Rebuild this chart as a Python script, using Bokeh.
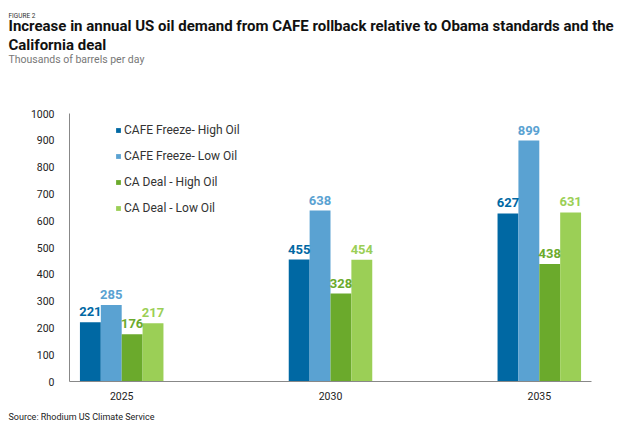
from bokeh.plotting import figure
from bokeh.models import (ColumnDataSource, FactorRange, Range1d, LabelSet, Title,
                          SingleIntervalTicker, Legend, LegendItem)
from bokeh.transform import dodge
from bokeh.core.properties import value
from bokeh.embed import file_html
from bokeh.resources import INLINE

years = ["2025", "2030", "2035"]
series_names = ["CAFE Freeze- High Oil", "CAFE Freeze- Low Oil", "CA Deal - High Oil", "CA Deal - Low Oil"]
cafe_high = [221, 455, 627]
cafe_low = [285, 638, 899]
ca_high = [176, 328, 438]
ca_low = [217, 454, 631]
colors = ["#0068A3", "#5AA2D2", "#6BAA2C", "#9BCF56"]
offsets = [-0.15, -0.05, 0.05, 0.15]

FONT = "Roboto"

p = figure(width=626, height=429, output_backend="svg", toolbar_location=None,
           x_range=FactorRange(factors=years, range_padding=-0.25, range_padding_units="absolute"),
           y_range=Range1d(0, 1000), title=None,
           min_border_left=69, min_border_right=35, min_border_top=113, min_border_bottom=40)
p.outline_line_color = None
p.xgrid.grid_line_color = None
p.ygrid.grid_line_color = None

items = []
for name, vals, col, off in zip(series_names, [cafe_high, cafe_low, ca_high, ca_low], colors, offsets):
    src = ColumnDataSource(dict(year=years, v=vals, t=[str(x) for x in vals]))
    r = p.vbar(x=dodge("year", off, range=p.x_range), top="v", width=0.1, source=src,
               fill_color=col, line_color=None)
    items.append(LegendItem(label=name, renderers=[r]))
    p.add_layout(LabelSet(x=dodge("year", off, range=p.x_range), y="v", text="t", source=src,
                          text_align="center", text_baseline="bottom", y_offset=6,
                          text_color=col, text_font=value(FONT), text_font_style="bold",
                          text_font_size="13px"))

legend = Legend(items=items, location=(46, 166), padding=0, margin=0,
                glyph_width=6, glyph_height=6, label_height=14, spacing=12, label_standoff=3,
                label_text_font=FONT, label_text_font_size="12px", label_text_color="#333333",
                border_line_color=None, background_fill_alpha=0)
p.add_layout(legend, "center")

for ax in (p.xaxis, p.yaxis):
    ax.axis_line_color = "#888888"
    ax.major_tick_line_color = None
    ax.minor_tick_line_color = None
    ax.major_label_text_font = FONT
    ax.major_label_text_font_size = "10.5px"
    ax.major_label_text_color = "#222222"
p.yaxis.ticker = SingleIntervalTicker(interval=100)
p.yaxis.major_label_standoff = 9
p.xaxis.major_label_standoff = 4

def title(text, size, color, side, standoff, bold=False, lh=1.0):
    p.add_layout(Title(text=text, align="left", offset=-61, standoff=standoff,
                       text_font=FONT, text_font_size=size, text_color=color,
                       text_line_height=lh,
                       text_font_style="bold" if bold else "normal"), side)

# stacked outward from the frame
title(" ", "1px", "#ffffff", "above", 45)
title("Thousands of barrels per day", "10.5px", "#777777", "above", 0)
title("Increase in annual US oil demand from CAFE rollback relative to Obama standards and the\nCalifornia deal",
      "15px", "#111111", "above", -8, True, 1.07)
title("FIGURE 2", "6.5px", "#333333", "above", 0)
title("Source: Rhodium US Climate Service", "9px", "#222222", "below", 15)

open("out.html", "w").write(file_html(p, INLINE))
